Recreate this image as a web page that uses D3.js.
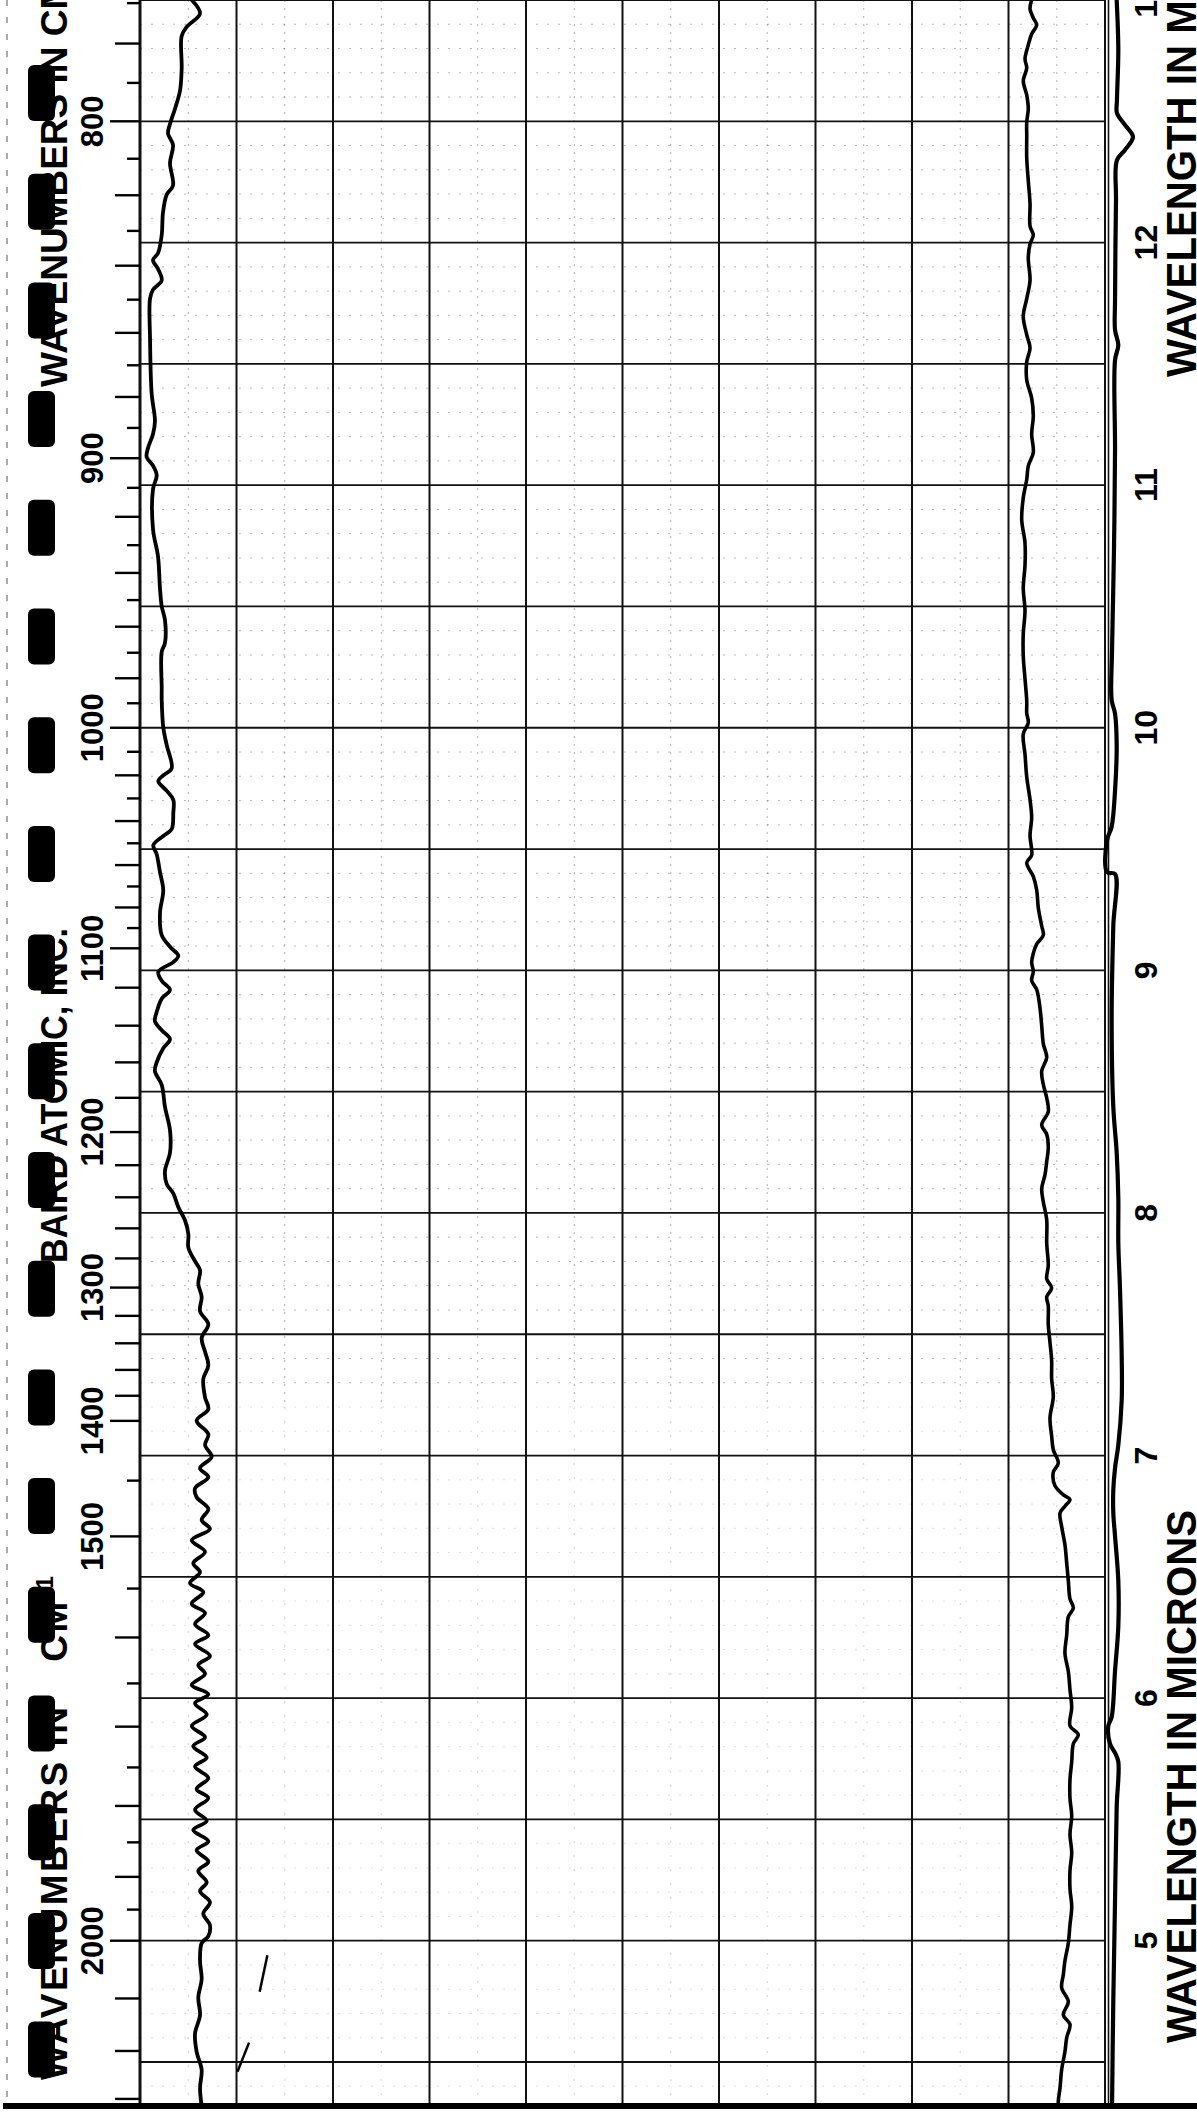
<!DOCTYPE html>
<html>
<head>
<meta charset="utf-8">
<script src="https://cdn.jsdelivr.net/npm/d3@7"></script>
<style>
body { margin: 0; background: #fff; }
svg { display: block; background: #fff; }
text { font-family: 'Liberation Sans', 'DejaVu Sans', sans-serif; font-weight: bold; fill: #000; }
</style>
</head>
<body>
<svg id="chart" width="1197" height="2116"></svg>
<script>
// labels on the two scales
var wavenumberLabels = [800, 900, 1000, 1100, 1200, 1300, 1400, 1500, 2000]
var micronLabels = [13, 12, 11, 10, 9, 8, 7, 6, 5]
var wavenumberTicks = d3.range(770, 1100, 10).concat(d3.range(1100, 1400, 20), d3.range(1400, 2000, 50), d3.range(2000, 2301, 100))

// [wavelength (microns), transmittance (%)]
var sampleTrace = [
	[13.00, 5.36], [12.944, 6.22], [12.889, 4.84], [12.852, 4.32], [12.72, 4.32], [12.627, 4.15], [12.552, 3.63],
	[12.489, 3.11], [12.45, 2.90], [12.402, 3.42], [12.328, 3.11], [12.235, 3.42], [12.198, 2.77], [12.123, 2.38],
	[12.031, 2.25], [11.957, 1.87], [11.928, 1.35], [11.891, 1.87], [11.844, 2.25], [11.806, 1.35], [11.769, 1.04],
	[11.603, 1.04], [11.376, 1.21], [11.265, 1.55], [11.211, 1.35], [11.153, 0.83], [11.116, 0.69], [11.08, 1.35],
	[11.041, 1.73], [10.984, 1.35], [10.818, 1.35], [10.705, 1.87], [10.575, 2.07], [10.501, 2.25], [10.443, 2.59],
	[10.35, 2.59], [10.313, 2.25], [10.163, 2.25], [10.114, 2.25], [10.002, 2.41], [9.928, 2.77], [9.833, 3.28],
	[9.804, 2.41], [9.78, 1.90], [9.74, 2.77], [9.703, 3.45], [9.648, 3.45], [9.582, 3.28], [9.554, 2.41],
	[9.516, 1.38], [9.479, 1.73], [9.405, 2.07], [9.33, 2.41], [9.237, 2.07], [9.145, 2.25], [9.097, 3.11],
	[9.06, 3.97], [9.034, 3.45], [8.994, 1.90], [8.957, 2.25], [8.92, 3.11], [8.883, 2.25], [8.828, 1.73],
	[8.79, 1.55], [8.753, 2.25], [8.716, 3.11], [8.679, 2.41], [8.621, 1.73], [8.584, 1.55], [8.528, 2.25],
	[8.436, 2.59], [8.341, 3.11], [8.248, 3.11], [8.174, 2.59], [8.119, 2.77], [8.081, 3.45], [8.024, 3.97],
	[7.97, 4.66], [7.912, 5.01], [7.857, 5.01], [7.801, 5.70], [7.764, 6.22], [7.708, 6.04], [7.653, 6.39],
	[7.595, 6.22], [7.541, 7.08], [7.484, 6.39], [7.428, 6.74], [7.372, 7.08], [7.316, 6.56], [7.24, 6.74],
	[7.191, 7.08], [7.144, 5.87], [7.088, 7.08], [7.043, 6.74], [6.995, 7.43], [6.948, 6.22], [6.911, 7.08],
	[6.865, 5.70], [6.828, 5.87], [6.78, 7.08], [6.734, 6.39], [6.697, 7.25], [6.651, 5.36], [6.603, 6.74],
	[6.556, 5.52], [6.519, 6.22], [6.474, 5.18], [6.437, 6.56], [6.389, 5.36], [6.351, 6.74], [6.305, 5.70],
	[6.26, 7.08], [6.223, 5.70], [6.174, 7.25], [6.137, 6.04], [6.1, 6.74], [6.054, 5.36], [6.016, 7.08],
	[5.979, 5.70], [5.932, 6.91], [5.885, 5.36], [5.839, 6.74], [5.802, 5.52], [5.755, 6.91], [5.718, 5.70],
	[5.671, 7.08], [5.625, 5.87], [5.588, 7.08], [5.54, 5.70], [5.494, 6.91], [5.456, 5.52], [5.41, 7.08],
	[5.373, 5.87], [5.326, 7.08], [5.288, 6.04], [5.241, 6.91], [5.204, 6.22], [5.159, 7.25], [5.111, 6.56],
	[5.064, 7.25], [5.019, 7.08], [4.99, 6.39], [4.916, 6.22], [4.841, 6.39], [4.767, 6.04], [4.693, 6.22],
	[4.617, 5.70], [4.542, 5.87], [4.468, 6.39], [4.393, 6.22], [4.318, 6.39]
]

var backgroundTrace = [
	[13.0, 92.40], [12.963, 92.23], [12.926, 92.57], [12.897, 92.92], [12.86, 92.40], [12.815, 92.05], [12.757, 91.71],
	[12.72, 91.89], [12.666, 91.53], [12.608, 91.89], [12.552, 92.05], [12.497, 91.89], [12.439, 91.89], [12.349, 91.89],
	[12.254, 92.05], [12.161, 92.23], [12.068, 92.23], [12.031, 92.57], [11.994, 92.23], [11.937, 92.05], [11.844, 92.23],
	[11.769, 91.89], [11.695, 91.53], [11.62, 91.89], [11.566, 92.23], [11.508, 91.89], [11.434, 91.89], [11.359, 92.40],
	[11.285, 92.57], [11.211, 92.40], [11.135, 92.57], [11.079, 92.05], [11.023, 91.89], [10.948, 91.53], [10.857, 91.37],
	[10.762, 91.71], [10.669, 91.71], [10.576, 91.53], [10.481, 91.71], [10.389, 91.53], [10.296, 91.53], [10.202, 91.71],
	[10.11, 91.89], [10.059, 91.89], [10.021, 92.05], [9.974, 91.53], [9.891, 91.71], [9.797, 91.89], [9.704, 92.23],
	[9.63, 92.40], [9.555, 92.23], [9.475, 92.40], [9.443, 91.89], [9.387, 92.57], [9.331, 92.92], [9.257, 93.09],
	[9.183, 93.44], [9.145, 93.61], [9.108, 92.92], [9.07, 92.57], [9.033, 92.40], [8.995, 92.57], [8.958, 92.40],
	[8.921, 92.92], [8.846, 93.26], [8.772, 93.44], [8.697, 93.61], [8.641, 93.96], [8.585, 93.44], [8.529, 93.61],
	[8.474, 93.96], [8.417, 94.12], [8.363, 93.44], [8.324, 93.96], [8.268, 94.12], [8.212, 93.96], [8.157, 93.78],
	[8.1, 93.44], [8.045, 93.61], [7.971, 93.96], [7.876, 93.96], [7.783, 94.12], [7.728, 93.96], [7.691, 94.47],
	[7.654, 93.96], [7.617, 94.12], [7.542, 94.12], [7.466, 94.30], [7.392, 94.47], [7.317, 94.47], [7.242, 94.64],
	[7.155, 94.30], [7.081, 94.47], [7.024, 94.64], [6.969, 95.16], [6.931, 94.64], [6.875, 94.82], [6.838, 95.68],
	[6.819, 96.37], [6.791, 95.85], [6.763, 95.34], [6.707, 95.51], [6.632, 95.85], [6.557, 96.03], [6.483, 96.20],
	[6.409, 96.37], [6.372, 96.72], [6.335, 96.20], [6.26, 96.03], [6.185, 95.85], [6.11, 96.20], [6.035, 96.37],
	[5.961, 96.55], [5.886, 96.37], [5.849, 97.23], [5.812, 96.72], [5.737, 96.55], [5.663, 96.37], [5.588, 96.37],
	[5.513, 96.55], [5.439, 96.37], [5.364, 96.55], [5.289, 96.37], [5.215, 96.37], [5.14, 96.55], [5.065, 96.37],
	[4.991, 96.20], [4.917, 95.85], [4.86, 95.68], [4.805, 95.51], [4.749, 96.20], [4.694, 95.68], [4.655, 96.37],
	[4.6, 96.03], [4.543, 95.85], [4.469, 95.51], [4.394, 95.34], [4.339, 95.16], [4.282, 95.16]
]

// pen trace drawn in the margin, just past 100%
var marginTrace = [
	[13.0, 101.21], [12.794, 101.38], [12.588, 101.24], [12.534, 101.24], [12.485, 102.07], [12.435, 102.90],
	[12.382, 102.07], [12.34, 101.24], [12.176, 101.14], [11.763, 101.04], [11.64, 101.04], [11.578, 101.38],
	[11.516, 101.04], [11.145, 101.04], [10.733, 100.93], [10.321, 100.73], [10.114, 100.69], [10.058, 101.04],
	[9.929, 101.21], [9.741, 101.04], [9.592, 100.69], [9.537, 100.21], [9.405, 100.21], [9.397, 101.04],
	[9.183, 100.86], [8.809, 100.69], [8.437, 100.86], [8.249, 101.21], [8.063, 101.38], [7.876, 101.38],
	[7.691, 101.55], [7.41, 101.73], [7.229, 101.73], [7.043, 101.38], [6.949, 101.04], [6.858, 100.86],
	[6.763, 100.86], [6.668, 101.04], [6.483, 101.38], [6.297, 101.38], [6.112, 101.04], [5.922, 100.69],
	[5.885, 100.34], [5.811, 100.52], [5.774, 101.04], [5.737, 101.38], [5.551, 101.21], [5.168, 101.04],
	[4.756, 100.86], [4.319, 100.73]
]

// stray pen strokes on the paper
var penMarks = [
	[[4.94, 13.2], [4.79, 12.4]],
	[[4.58, 11.3], [4.46, 10.1]]
]

var svg = d3.select('#chart')
var gridBottom = 2104

var y = d3.scaleLinear().domain([13, 4.5]).range([0, 2062])
var x = d3.scaleLinear().domain([0, 100]).range([140, 1105])

svg.append('clipPath').attr('id', 'paper')
	.append('rect').attr('x', 0).attr('y', 0).attr('width', 1197).attr('height', gridBottom)

// faint dotted minor grid
var minorH = d3.range(130, 43, -1).filter(d => d % 5 != 0).map(d => d / 10)
var minorV = d3.range(5, 100, 10)

var minor = svg.append('g')
minor.selectAll('.mh').data(minorH).enter().append('line')
	.attr('class', 'mh')
	.attr('x1', x(0)).attr('x2', x(100))
	.attr('y1', d => y(d)).attr('y2', d => y(d))
	.attr('stroke', '#555').attr('stroke-width', 1)
	.attr('stroke-dasharray', '2,9')
	.attr('opacity', d => d > 7.2 ? 0.4 : 0.18)

minor.selectAll('.mv').data(minorV).enter().append('line')
	.attr('class', 'mv')
	.attr('x1', d => x(d)).attr('x2', d => x(d))
	.attr('y1', 0).attr('y2', y(7.2))
	.attr('stroke', '#555').attr('stroke-width', 1)
	.attr('stroke-dasharray', '2,6')
	.attr('opacity', 0.45)
minor.selectAll('.mv2').data(minorV).enter().append('line')
	.attr('class', 'mv2')
	.attr('x1', d => x(d)).attr('x2', d => x(d))
	.attr('y1', y(7.2)).attr('y2', gridBottom)
	.attr('stroke', '#555').attr('stroke-width', 1)
	.attr('stroke-dasharray', '2,12')
	.attr('opacity', 0.25)

// major grid
var majorH = d3.range(26, 8, -1).map(d => d / 2)
var majorV = d3.range(0, 101, 10)

svg.append('g').selectAll('line').data(majorH).enter().append('line')
	.attr('x1', x(0)).attr('x2', x(100))
	.attr('y1', d => y(d)).attr('y2', d => y(d))
	.attr('stroke', '#111').attr('stroke-width', 1.8)

svg.append('g').selectAll('line').data(majorV).enter().append('line')
	.attr('x1', d => x(d)).attr('x2', d => x(d))
	.attr('y1', 0).attr('y2', gridBottom)
	.attr('stroke', '#111')
	.attr('stroke-width', d => d == 0 ? 3 : 2)

// double edge on the right
svg.append('line')
	.attr('x1', x(100) + 3.5).attr('x2', x(100) + 3.5)
	.attr('y1', 0).attr('y2', gridBottom)
	.attr('stroke', '#111').attr('stroke-width', 1.6)

// wavenumber ticks on the left edge
var tickStart = function(v)
{
	if (wavenumberLabels.indexOf(v) >= 0) return 110
	if (v < 1100) return v % 20 == 0 ? 115 : 127
	if (v < 1400) return 115
	if (v < 2000) return v % 100 == 0 ? 115 : 127
	return 115
}

svg.append('g').selectAll('line').data(wavenumberTicks).enter().append('line')
	.attr('x1', d => tickStart(d)).attr('x2', x(0))
	.attr('y1', d => y(10000 / d)).attr('y2', d => y(10000 / d))
	.attr('stroke', '#000').attr('stroke-width', 2.4)

svg.append('g').selectAll('text').data(wavenumberLabels).enter().append('text')
	.attr('transform', d => 'translate(103,' + y(10000 / d) + ')rotate(-90)')
	.attr('text-anchor', 'middle')
	.style('font-size', '31px')
	.text(d => d)

svg.append('g').selectAll('text').data(micronLabels).enter().append('text')
	.attr('transform', d => 'translate(1157,' + y(d) + ')rotate(-90)')
	.attr('text-anchor', 'middle')
	.style('font-size', '32px')
	.text(d => d)

// side captions
var leftCaption = function(yPos, spacing, gap)
{
	var t = svg.append('text')
		.attr('transform', 'translate(67,' + yPos + ')rotate(-90)')
		.style('font-size', '37px')
		.style('letter-spacing', spacing + 'px')
		.text('WAVENUMBERS IN ')
	t.append('tspan').attr('dx', gap).text('CM')
	t.append('tspan').attr('dy', -14).style('font-size', '23px').text('-1')
}
leftCaption(387, 0, 0)
leftCaption(2080, 2.5, 30)

svg.append('text')
	.attr('transform', 'translate(67,1263)rotate(-90)')
	.attr('textLength', 335)
	.attr('lengthAdjust', 'spacingAndGlyphs')
	.style('font-size', '36px')
	.text('BAIRD ATOMIC, INC.')

var rightCaption = function(yPos)
{
	svg.append('text')
		.attr('transform', 'translate(1196,' + yPos + ')rotate(-90)')
		.attr('textLength', 533)
		.attr('lengthAdjust', 'spacingAndGlyphs')
		.style('font-size', '43px')
		.text('WAVELENGTH IN MICRONS')
}
rightCaption(377)
rightCaption(2043)

// black punch marks along the left strip
var holes = d3.range(0, 19)
svg.append('g').selectAll('rect').data(holes).enter().append('rect')
	.attr('x', 28).attr('y', d => 65 + d * 108.7)
	.attr('width', 27).attr('height', 56)
	.attr('rx', 6)
	.attr('fill', '#000')

// dashed scan edge
svg.append('line')
	.attr('x1', 7).attr('x2', 7).attr('y1', 0).attr('y2', 2100)
	.attr('stroke', '#444').attr('stroke-width', 1.5)
	.attr('stroke-dasharray', '6,11').attr('opacity', 0.6)

// traces
var trace = d3.line()
	.x(d => x(d[1]))
	.y(d => y(d[0]))
	.curve(d3.curveCatmullRom.alpha(0.5))

var traces = svg.append('g').attr('clip-path', 'url(#paper)')

traces.append('path').datum(sampleTrace)
	.attr('d', trace)
	.attr('fill', 'none').attr('stroke', '#000')
	.attr('stroke-width', 3.8).attr('stroke-linejoin', 'round').attr('stroke-linecap', 'round')

traces.append('path').datum(backgroundTrace)
	.attr('d', trace)
	.attr('fill', 'none').attr('stroke', '#000')
	.attr('stroke-width', 3.6).attr('stroke-linejoin', 'round').attr('stroke-linecap', 'round')

traces.append('path').datum(marginTrace)
	.attr('d', trace)
	.attr('fill', 'none').attr('stroke', '#000')
	.attr('stroke-width', 4.2).attr('stroke-linejoin', 'round')

traces.selectAll('.pen').data(penMarks).enter().append('path')
	.attr('class', 'pen')
	.attr('d', d3.line().x(d => x(d[1])).y(d => y(d[0])))
	.attr('fill', 'none').attr('stroke', '#000').attr('stroke-width', 2.5)

// heavy bottom rule
svg.append('rect')
	.attr('x', 3).attr('y', gridBottom - 1)
	.attr('width', 1194).attr('height', 6)
	.attr('fill', '#000')
</script>
</body>
</html>
